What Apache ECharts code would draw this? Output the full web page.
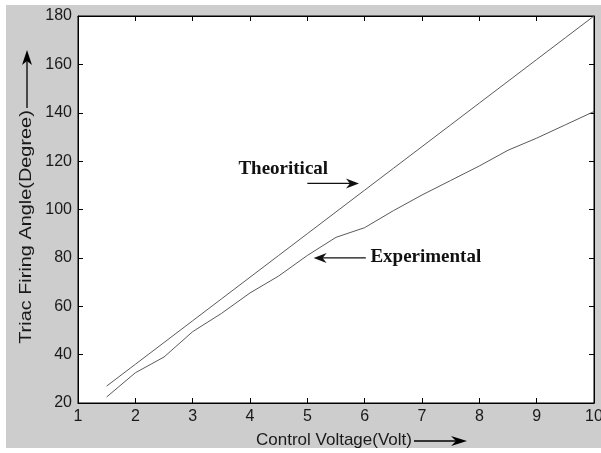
<!DOCTYPE html>
<html>
<head>
<meta charset="utf-8">
<script src="https://cdn.jsdelivr.net/npm/echarts@6/dist/echarts.min.js"></script>
<style>
html,body{margin:0;padding:0;background:#fff;overflow:hidden;}
#bg{position:absolute;left:6px;top:5px;width:595px;height:443px;background:#cdcdcd;}
#chart{position:absolute;left:0;top:0;width:601px;height:453px;}
</style>
</head>
<body>
<div id="bg"></div>
<div id="chart"></div>
<script>
var voltage = [1.5, 2, 2.5, 3, 3.5, 4, 4.5, 5, 5.5, 6, 6.5, 7, 7.5, 8, 8.5, 9, 9.5, 10];
var theoretical = [27, 36, 45, 54, 63, 72, 81, 90, 99, 108, 117, 126, 135, 144, 153, 162, 171, 180];
var experimental = [22.5, 32.5, 39, 49.5, 57, 65.5, 72.5, 81, 88.5, 92.5, 99.5, 106, 112, 118, 124.5, 129.5, 135, 140.5];
var xTicks = [1, 2, 3, 4, 5, 6, 7, 8, 9, 10];
var yTicks = [20, 40, 60, 80, 100, 120, 140, 160, 180];

function pairs(xs, ys) { return xs.map(function (x, i) { return [x, ys[i]]; }); }

var chart = echarts.init(document.getElementById('chart'), null, {renderer: 'canvas'});
var labelFont = {fontFamily: 'Liberation Sans, Arial, sans-serif', fontSize: 16, color: '#1a1a1a'};
function xAxisDef(pos, showLabel) {
  return {
    type: 'value', position: pos, min: xTicks[0], max: xTicks[xTicks.length - 1], interval: 1,
    axisLine: {show: true, onZero: false, lineStyle: {color: '#000', width: 1}},
    axisTick: {show: true, inside: true, length: 5, lineStyle: {color: '#000'}},
    axisLabel: Object.assign({show: showLabel, margin: 6, hideOverlap: false, showMinLabel: true, showMaxLabel: true}, labelFont),
    splitLine: {show: false}
  };
}
function yAxisDef(pos, showLabel) {
  return {
    type: 'value', position: pos, min: yTicks[0], max: yTicks[yTicks.length - 1], interval: 20,
    axisLine: {show: true, onZero: false, lineStyle: {color: '#000', width: 1}},
    axisTick: {show: true, inside: true, length: 5, lineStyle: {color: '#000'}},
    axisLabel: Object.assign({show: showLabel, margin: 6, showMinLabel: true, showMaxLabel: true}, labelFont),
    splitLine: {show: false}
  };
}

chart.setOption({
  animation: false,
  backgroundColor: 'transparent',
  grid: {left: 78, right: 7, top: 16, bottom: 50, show: true, backgroundColor: '#fff', borderColor: '#000', borderWidth: 1,
         containLabel: false, outerBoundsMode: 'none'},
  xAxis: [xAxisDef('bottom', true), xAxisDef('top', false)],
  yAxis: [yAxisDef('left', true), yAxisDef('right', false)],
  series: [
    {name: 'Theoritical', type: 'line', data: pairs(voltage, theoretical), showSymbol: false, symbol: 'none',
     lineStyle: {color: '#5a5a5a', width: 1}},
    {name: 'Experimental', type: 'line', data: pairs(voltage, experimental), showSymbol: false, symbol: 'none',
     lineStyle: {color: '#5a5a5a', width: 1}}
  ]
});

function px(v, a) { return chart.convertToPixel({xAxisIndex: 0, yAxisIndex: 0}, [v, a]); }
var tText = px(4.58, 116.7);
var tA0 = px(5.0, 110.8), tA1 = px(5.9, 110.8);
var eText = px(6.10, 80.3);
var eA0 = px(6.02, 80.0), eA1 = px(5.11, 80.0);
var serif = 'Liberation Serif, Times New Roman, serif';
var annFont = {fontFamily: serif, fontWeight: 'bold', fontSize: 19, fill: '#111'};

function arrowRight(x0, x1, y) {
  return [
    {type: 'line', shape: {x1: x0, y1: y, x2: x1 - 6, y2: y}, style: {stroke: '#111', lineWidth: 1.3}},
    {type: 'polygon', shape: {points: [[x1, y], [x1 - 13, y - 5], [x1 - 9, y], [x1 - 13, y + 5]]}, style: {fill: '#111'}}
  ];
}
function arrowLeft(x0, x1, y) {
  return [
    {type: 'line', shape: {x1: x0, y1: y, x2: x1 + 6, y2: y}, style: {stroke: '#111', lineWidth: 1.3}},
    {type: 'polygon', shape: {points: [[x1, y], [x1 + 13, y - 5], [x1 + 9, y], [x1 + 13, y + 5]]}, style: {fill: '#111'}}
  ];
}

var g = [
  {type: 'text', x: tText[0], y: tText[1], style: Object.assign({text: 'Theoritical', textAlign: 'center', textVerticalAlign: 'middle'}, annFont)},
  {type: 'text', x: eText[0], y: eText[1], style: Object.assign({text: 'Experimental', textAlign: 'left', textVerticalAlign: 'middle'}, annFont)},
  // axis titles
  {type: 'text', x: 26, y: 227, rotation: Math.PI / 2, scaleX: 1.17,
   style: {text: 'Triac Firing Angle(Degree)', textAlign: 'center', textVerticalAlign: 'middle', fontFamily: 'Liberation Sans, Arial, sans-serif', fontSize: 17, fill: '#1a1a1a'}},
  {type: 'text', x: 334, y: 440,
   style: {text: 'Control Voltage(Volt)', textAlign: 'center', textVerticalAlign: 'middle', fontFamily: 'Liberation Sans, Arial, sans-serif', fontSize: 17, fill: '#1a1a1a'}},
  {type: 'line', shape: {x1: 27, y1: 108, x2: 27, y2: 60}, style: {stroke: '#000', lineWidth: 1.3}},
  {type: 'polygon', shape: {points: [[27, 50], [22, 65], [27, 61], [32, 65]]}, style: {fill: '#000'}},
  {type: 'line', shape: {x1: 414, y1: 441, x2: 458, y2: 441}, style: {stroke: '#000', lineWidth: 1.3}},
  {type: 'polygon', shape: {points: [[467, 441], [451, 436], [456, 441], [451, 446]]}, style: {fill: '#000'}}
];
g = g.concat(arrowRight(tA0[0], tA1[0], tA0[1])).concat(arrowLeft(eA0[0], eA1[0], eA0[1]));
chart.setOption({graphic: {elements: g}});
</script>
</body>
</html>
